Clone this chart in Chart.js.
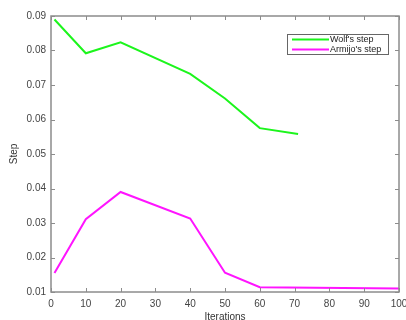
<!doctype html>
<html>
<head>
    <script src="https://cdn.jsdelivr.net/npm/chart.js"></script>
    <style>
        html, body { margin: 0; padding: 0; background: #fff; }
        #wrap { position: relative; width: 406px; height: 320px; }
    </style>
</head>
<body>
    <div id="wrap"><canvas id="grafico"></canvas></div>
    <script>
        // valores
        var wolfIter = [1, 10, 20, 40, 50, 60, 71];
        var wolfStep = [0.089, 0.0792, 0.0824, 0.0732, 0.0661, 0.0575, 0.0558];
        var armijoIter = [1, 10, 20, 40, 50, 60, 100];
        var armijoStep = [0.0155, 0.0311, 0.039, 0.0313, 0.0156, 0.0114, 0.011];
        var xTicks = [0, 10, 20, 30, 40, 50, 60, 70, 80, 90, 100];
        var yTicks = [0.01, 0.02, 0.03, 0.04, 0.05, 0.06, 0.07, 0.08, 0.09];

        function pontos(xs, ys) {
            return xs.map(function (x, i) { return { x: x, y: ys[i] }; });
        }

        var fonte = { family: "'Liberation Sans', Arial, sans-serif", size: 10 };

        // caixa, ticks para dentro e legenda no estilo matlab
        var estiloMatlab = {
            id: 'estiloMatlab',
            afterDraw: function (chart) {
                var ctx = chart.ctx;
                var a = chart.chartArea;
                var sx = chart.scales.x, sy = chart.scales.y;
                ctx.save();
                ctx.strokeStyle = '#8c8c8c';
                ctx.lineWidth = 1.5;
                ctx.strokeRect(a.left, a.top, a.right - a.left, a.bottom - a.top);
                ctx.lineWidth = 1;
                ctx.beginPath();
                xTicks.forEach(function (v) {
                    var px = Math.round(sx.getPixelForValue(v)) + 0.5;
                    ctx.moveTo(px, a.bottom); ctx.lineTo(px, a.bottom - 4);
                    ctx.moveTo(px, a.top); ctx.lineTo(px, a.top + 4);
                });
                yTicks.forEach(function (v) {
                    var py = Math.round(sy.getPixelForValue(v)) + 0.5;
                    ctx.moveTo(a.left, py); ctx.lineTo(a.left + 4, py);
                    ctx.moveTo(a.right, py); ctx.lineTo(a.right - 4, py);
                });
                ctx.stroke();

                // legenda
                var lx = 287, ly = 34, lw = 101, lh = 20;
                ctx.fillStyle = '#fff';
                ctx.fillRect(lx, ly, lw, lh);
                ctx.strokeStyle = '#666';
                ctx.lineWidth = 1;
                ctx.strokeRect(lx + 0.5, ly + 0.5, lw, lh);
                ctx.font = "9px 'Liberation Sans', Arial, sans-serif";
                ctx.textBaseline = 'middle';
                chart.data.datasets.forEach(function (ds, i) {
                    var y = ly + 5.5 + i * 10;
                    ctx.strokeStyle = ds.borderColor;
                    ctx.lineWidth = 2;
                    ctx.beginPath();
                    ctx.moveTo(lx + 5, y); ctx.lineTo(lx + 42, y);
                    ctx.stroke();
                    ctx.fillStyle = '#222';
                    ctx.fillText(ds.label, lx + 43, y);
                });
                ctx.restore();
            }
        };

        var grafico = new Chart(document.getElementById('grafico'), {
            type: 'line',
            data: {
                datasets: [{
                    label: "Wolf's step",
                    data: pontos(wolfIter, wolfStep),
                    borderColor: '#1cf51c',
                    borderWidth: 2,
                    pointRadius: 0,
                    tension: 0
                }, {
                    label: "Armijo's step",
                    data: pontos(armijoIter, armijoStep),
                    borderColor: '#ff14ff',
                    borderWidth: 2,
                    pointRadius: 0,
                    tension: 0
                }]
            },
            options: {
                responsive: true,
                maintainAspectRatio: false,
                animation: false,
                layout: { padding: { left: 0, top: 16, right: 7, bottom: 0 } },
                plugins: {
                    legend: { display: false },
                    tooltip: { enabled: false }
                },
                scales: {
                    x: {
                        type: 'linear',
                        min: 0,
                        max: 100,
                        afterBuildTicks: function (s) { s.ticks = xTicks.map(function (v) { return { value: v }; }); },
                        grid: { display: false, drawTicks: false },
                        border: { display: false },
                        ticks: { color: '#444', font: fonte, padding: 6, maxRotation: 0, autoSkip: false },
                        title: { display: true, text: 'Iterations', color: '#333', font: fonte, padding: { top: 0, bottom: -3 } },
                        afterFit: function (s) { s.height = 28; s.paddingLeft = 0; s.paddingRight = 0; }
                    },
                    y: {
                        min: 0.01,
                        max: 0.09,
                        afterBuildTicks: function (s) { s.ticks = yTicks.map(function (v) { return { value: v }; }); },
                        grid: { display: false, drawTicks: false },
                        border: { display: false },
                        ticks: {
                            color: '#444', font: fonte, padding: 5, autoSkip: false,
                            callback: function (v) { return v.toFixed(2); }
                        },
                        title: { display: true, text: 'Step', color: '#333', font: fonte, padding: { top: 8, bottom: 0 } },
                        afterFit: function (s) { s.width = 51; s.paddingTop = 0; s.paddingBottom = 0; }
                    }
                }
            },
            plugins: [estiloMatlab]
        });
    </script>
</body>
</html>
